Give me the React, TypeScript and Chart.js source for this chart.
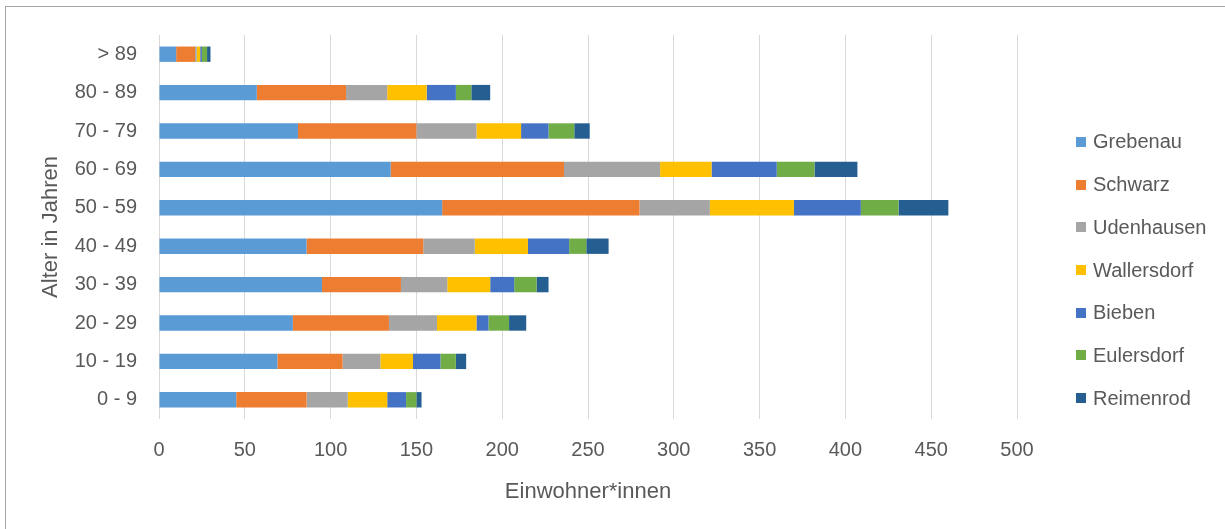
import { useEffect, useRef } from "react";
import { Chart, registerables } from "chart.js";

Chart.register(...registerables);

// Age groups, bottom to top
const ageGroups = ["0 - 9", "10 - 19", "20 - 29", "30 - 39", "40 - 49", "50 - 59", "60 - 69", "70 - 79", "80 - 89", "> 89"];

// Inhabitants per district and age group
const grebenau = [45, 69, 78, 95, 86, 165, 135, 81, 57, 10];
const schwarz = [41, 38, 56, 46, 68, 115, 101, 69, 52, 11];
const udenhausen = [24, 22, 28, 27, 30, 41, 56, 35, 24, 1];
const wallersdorf = [23, 19, 23, 25, 31, 49, 30, 26, 23, 2];
const bieben = [11, 16, 7, 14, 24, 39, 38, 16, 17, 1];
const eulersdorf = [6, 9, 12, 13, 10, 22, 22, 15, 9, 3];
const reimenrod = [3, 6, 10, 7, 13, 29, 25, 9, 11, 2];

const districtNames = ["Grebenau", "Schwarz", "Udenhausen", "Wallersdorf", "Bieben", "Eulersdorf", "Reimenrod"];
const districtColors = ["#5B9BD5", "#ED7D31", "#A5A5A5", "#FFC000", "#4472C4", "#70AD47", "#255E91"];
const districtValues = [grebenau, schwarz, udenhausen, wallersdorf, bieben, eulersdorf, reimenrod];

// Axis range
const xMin = 0;
const xMax = 500;
const xStep = 50;

const FONT = "'Liberation Sans', Arial, sans-serif";
const TEXT = "#595959";

export default function App() {
  const canvasRef = useRef<HTMLCanvasElement | null>(null);

  useEffect(() => {
    if (!canvasRef.current) return;
    const chart = new Chart(canvasRef.current, {
      type: "bar",
      data: {
        labels: ageGroups,
        datasets: districtNames.map((name, i) => ({
          label: name,
          data: districtValues[i],
          backgroundColor: districtColors[i],
          borderWidth: 0,
          categoryPercentage: 1,
          barPercentage: 0.4,
        })),
      },
      options: {
        indexAxis: "y",
        responsive: false,
        animation: false,
        devicePixelRatio: 1,
        layout: { padding: { top: 35, right: 208, bottom: 0, left: 0 } },
        plugins: { legend: { display: false }, tooltip: { enabled: false } },
        scales: {
          x: {
            stacked: true,
            min: xMin,
            max: xMax,
            ticks: { stepSize: xStep, color: TEXT, font: { family: FONT, size: 20 }, padding: 19 },
            grid: { color: "#d9d9d9", drawTicks: false, lineWidth: 1 },
            border: { display: false },
            title: {
              display: true,
              text: "Einwohner*innen",
              color: TEXT,
              font: { family: FONT, size: 22 },
              padding: { top: 0, bottom: 24 },
            },
            afterFit: (s: any) => {
              s.height = 110;
            },
          },
          y: {
            stacked: true,
            reverse: true,
            ticks: { color: TEXT, font: { family: FONT, size: 20 }, padding: 22 },
            grid: { display: false, drawTicks: false },
            border: { display: false },
            title: {
              display: true,
              text: "Alter in Jahren",
              color: TEXT,
              font: { family: FONT, size: 22 },
              padding: { top: 38, bottom: 0 },
            },
            afterFit: (s: any) => {
              s.width = 159;
            },
          },
        },
      },
    });
    return () => chart.destroy();
  }, []);

  return (
    <div style={{ position: "fixed", left: 0, top: 0, width: 1225, height: 529, background: "#fff" }}>
      <div
        style={{
          position: "absolute",
          left: 5,
          top: 6,
          right: 0,
          bottom: 0,
          borderLeft: "1px solid #a6a6a6",
          borderTop: "1px solid #a6a6a6",
        }}
      />
      <canvas ref={canvasRef} width={1225} height={529} style={{ position: "absolute", left: 0, top: 0 }} />
      <div style={{ position: "absolute", left: 1076, top: 120.6, fontFamily: FONT, fontSize: 20, color: TEXT }}>
        {districtNames.map((name, i) => (
          <div key={name} style={{ height: 42.7, display: "flex", alignItems: "center" }}>
            <span style={{ width: 10, height: 10, background: districtColors[i], marginRight: 7, display: "inline-block" }} />
            <span>{name}</span>
          </div>
        ))}
      </div>
    </div>
  );
}
